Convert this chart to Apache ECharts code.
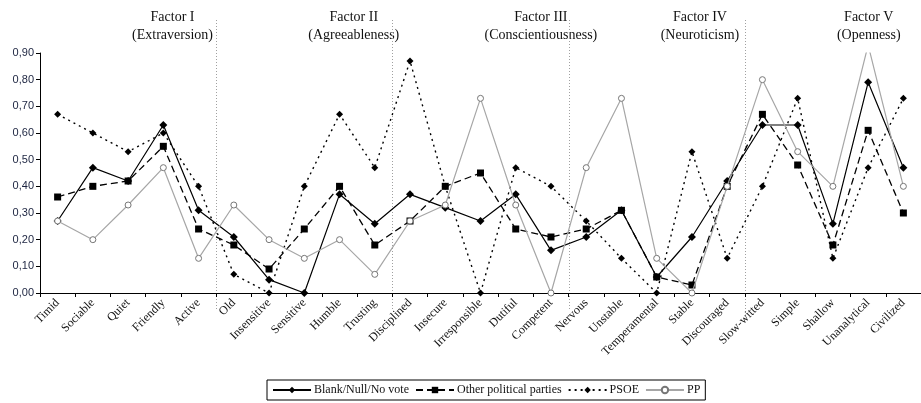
<!DOCTYPE html>
<html>
<head>
<meta charset="utf-8">
<script src="https://cdn.jsdelivr.net/npm/echarts@6/dist/echarts.min.js"></script>
<style>
html,body{margin:0;padding:0;background:#fff;}
#chart{width:921px;height:403px;}
</style>
</head>
<body>
<div id="chart"></div>
<script>
var categories = ["Timid","Sociable","Quiet","Friendly","Active","Old","Insensitive","Sensitive","Humble","Trusting","Disciplined","Insecure","Irresponsible","Dutiful","Competent","Nervous","Unstable","Temperamental","Stable","Discouraged","Slow-witted","Simple","Shallow","Unanalytical","Civilized"];
var factorTitles = ["Factor I\n(Extraversion)","Factor II\n(Agreeableness)","Factor III\n(Conscientiousness)","Factor IV\n(Neuroticism)","Factor V\n(Openness)"];
var factorSize = 5;
var blankNull = [0.27,0.47,0.42,0.63,0.31,0.21,0.05,0.00,0.37,0.26,0.37,0.32,0.27,0.37,0.16,0.21,0.31,0.06,0.21,0.42,0.63,0.63,0.26,0.79,0.47];
var otherParties = [0.36,0.40,0.42,0.55,0.24,0.18,0.09,0.24,0.40,0.18,0.27,0.40,0.45,0.24,0.21,0.24,0.31,0.06,0.03,0.40,0.67,0.48,0.18,0.61,0.30];
var psoe = [0.67,0.60,0.53,0.60,0.40,0.07,0.00,0.40,0.67,0.47,0.87,0.40,0.00,0.47,0.40,0.27,0.13,0.00,0.53,0.13,0.40,0.73,0.13,0.47,0.73];
var pp = [0.27,0.20,0.33,0.47,0.13,0.33,0.20,0.13,0.20,0.07,0.27,0.33,0.73,0.33,0.00,0.47,0.73,0.13,0.00,0.40,0.80,0.53,0.40,0.93,0.40];
var yTicks = [0,0.1,0.2,0.3,0.4,0.5,0.6,0.7,0.8,0.9];

var serif = '"Liberation Serif","Times New Roman",serif';
var chart = echarts.init(document.getElementById('chart'));
var option = {
  animation:false,
  backgroundColor:'#fff',
  grid:{left:40, top:53, width:888, bottom:110, containLabel:false},
  legend:{
    bottom:3, left:267,
    data:["Blank/Null/No vote","Other political parties","PSOE","PP"],
    borderColor:'#000', borderWidth:1, borderRadius:0,
    padding:[4,5], itemGap:6, itemWidth:38, itemHeight:8,
    textStyle:{fontFamily:serif, fontSize:12, color:'#111', padding:[0,0,0,-2]}
  },
  xAxis:{
    type:'category', data:categories, boundaryGap:true,
    axisLine:{lineStyle:{color:'#000', width:1}},
    axisTick:{show:true, length:4, lineStyle:{color:'#000'}},
    axisLabel:{rotate:45, fontFamily:serif, fontSize:12, color:'#111', margin:8, interval:0},
    splitLine:{show:false}
  },
  yAxis:{
    type:'value', min:0, max:0.9, interval:0.1,
    axisLine:{show:true, lineStyle:{color:'#000', width:1}},
    axisTick:{show:true, length:4, lineStyle:{color:'#000'}},
    splitLine:{show:false},
    axisLabel:{fontFamily:'"Liberation Sans",Arial,sans-serif', fontSize:11, color:'#1c2440', margin:6,
      formatter:function(v){ return v.toFixed(2).replace('.', ','); }}
  },
  series:[
    {name:"Blank/Null/No vote", type:'line', data:blankNull, clip:true,
     symbol:'diamond', symbolSize:8, itemStyle:{color:'#000'},
     lineStyle:{color:'#000', width:1.2, type:'solid'}, z:4},
    {name:"Other political parties", type:'line', data:otherParties, clip:true,
     symbol:'rect', symbolSize:7, itemStyle:{color:'#000'},
     lineStyle:{color:'#000', width:1.3, type:[7,4]}, z:3},
    {name:"PSOE", type:'line', data:psoe, clip:true,
     symbol:'diamond', symbolSize:7, itemStyle:{color:'#000'},
     lineStyle:{color:'#000', width:1.4, type:[2,4]}, z:2},
    {name:"PP", type:'line', data:pp, clip:true,
     symbol:'circle', symbolSize:6, itemStyle:{color:'#fff', borderColor:'#777', borderWidth:1},
     lineStyle:{color:'#a6a6a6', width:1.2, type:'solid'}, z:5}
  ]
};
chart.setOption(option);

// decorations derived from axis scale
var graphics = [];
var nGroups = factorTitles.length;
for (var g = 0; g < nGroups; g++) {
  var first = chart.convertToPixel({xAxisIndex:0}, g*factorSize);
  var last = chart.convertToPixel({xAxisIndex:0}, g*factorSize + factorSize - 1);
  var band = chart.convertToPixel({xAxisIndex:0}, 1) - chart.convertToPixel({xAxisIndex:0}, 0);
  var center = (first + last) / 2 + 4;
  graphics.push({type:'text', left:center, top:8,
    style:{text:factorTitles[g], font:'14px ' + serif, fill:'#111', textAlign:'center', lineHeight:18}});
  if (g > 0) {
    var x = Math.round(first - band/2) + 0.5;
    graphics.push({type:'line', shape:{x1:x, y1:20, x2:x, y2:310},
      style:{stroke:'#a0a0a0', lineWidth:1, lineDash:[1,2]}, z:0});
  }
}
chart.setOption({graphic:graphics});
</script>
</body>
</html>
